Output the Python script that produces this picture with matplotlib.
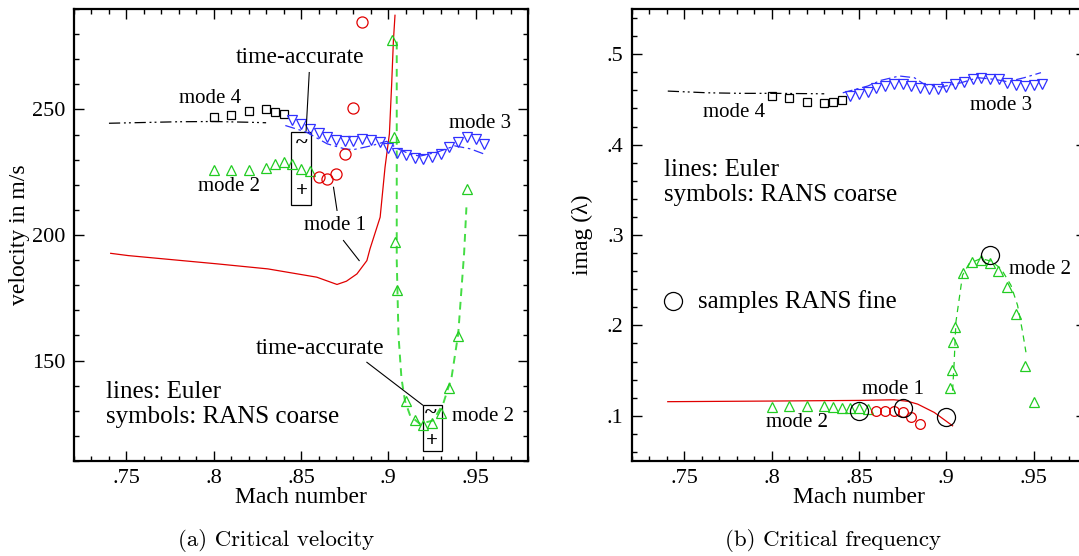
import matplotlib.pyplot as plt
from matplotlib.patches import Rectangle
from matplotlib.ticker import MultipleLocator

plt.rcParams['font.family'] = ['Liberation Serif', 'DejaVu Serif']

# ---------------- (a) critical velocity ----------------
mach_e1 = [0.741, 0.751, 0.802, 0.831, 0.859, 0.8706, 0.876, 0.882, 0.8877,
           0.8895, 0.8953, 0.8981, 0.9006, 0.9019, 0.9029, 0.9038]
vel_e1 = [192.7, 191.8, 188.5, 186.5, 183.2, 180.3, 181.6, 184.5, 189.8,
          194.5, 207.1, 227.0, 240.3, 260.2, 277.5, 287.5]

mach_e4 = [0.74, 0.76, 0.78, 0.80, 0.82, 0.83]
vel_e4 = [244.5, 244.8, 245.1, 245.2, 244.9, 244.7]

mach_r4 = [0.80, 0.81, 0.82, 0.83, 0.835, 0.84]
vel_r4 = [246.9, 247.9, 249.3, 250.0, 248.9, 248.3]

mach_r3 = [0.845, 0.85, 0.855, 0.86, 0.865, 0.87, 0.875, 0.88, 0.885, 0.89,
           0.895, 0.90, 0.905, 0.91, 0.915, 0.92, 0.925, 0.93, 0.935, 0.94,
           0.945, 0.95, 0.955]
vel_r3 = [245.6, 244.3, 242.3, 240.6, 239.0, 238.0, 237.6, 237.6, 238.2, 237.8,
          236.9, 234.7, 232.6, 231.7, 230.8, 230.1, 231.0, 232.2, 235.0, 237.0,
          239.0, 238.3, 236.3]

mach_e3 = [0.841, 0.853, 0.865, 0.875, 0.88, 0.89, 0.899, 0.905, 0.912, 0.918,
           0.928, 0.938, 0.947, 0.955]
vel_e3 = [243.6, 241.0, 236.3, 234.3, 234.0, 235.5, 237.3, 234.5, 232.3, 231.4,
          233.0, 235.5, 234.3, 232.2]

mach_r2 = [0.80, 0.81, 0.82, 0.83, 0.835, 0.84, 0.845, 0.85, 0.855,
           0.902, 0.903, 0.904, 0.905, 0.91, 0.915, 0.92, 0.925, 0.93, 0.935,
           0.94, 0.945]
vel_r2 = [226.0, 226.0, 226.0, 226.8, 228.1, 229.0, 228.1, 226.4, 225.3,
          277.5, 239.2, 197.1, 178.2, 133.7, 126.4, 124.5, 125.2, 129.2, 139.0,
          159.7, 218.4]

mach_e2 = [0.9048, 0.9048, 0.9058, 0.9075, 0.9095, 0.9125, 0.918, 0.9256,
           0.9314, 0.9362, 0.94, 0.9434, 0.9447]
vel_e2 = [277.0, 190.0, 160.0, 143.0, 134.0, 128.0, 124.8, 126.1, 132.8,
          143.3, 160.6, 193.0, 211.0]

mach_r1 = [0.86, 0.865, 0.87, 0.875, 0.88, 0.885]
vel_r1 = [223.0, 222.4, 224.1, 232.1, 250.5, 285.0]

# ---------------- (b) critical frequency ----------------
fmach_e1 = [0.7405, 0.80, 0.85, 0.87, 0.878, 0.8836, 0.8931, 0.9036]
freq_e1 = [0.1156, 0.1163, 0.1170, 0.1177, 0.1160, 0.1129, 0.1037, 0.0889]

fmach_e4 = [0.7405, 0.7634, 0.7825, 0.8015, 0.8301]
freq_e4 = [0.4592, 0.4573, 0.4567, 0.4567, 0.4562]

freq_r4 = [0.4537, 0.4518, 0.4473, 0.4456, 0.4473, 0.4492]

freq_r3 = [0.4537, 0.4556, 0.4584, 0.4629, 0.4648, 0.4667, 0.4667, 0.4648,
           0.4622, 0.4611, 0.4611, 0.4637, 0.4667, 0.4696, 0.4722, 0.4733,
           0.4722, 0.4722, 0.4684, 0.4659, 0.4648, 0.4659, 0.4673]

fmach_e3 = [0.8407, 0.855, 0.8626, 0.8731, 0.8817, 0.8874, 0.897, 0.9084,
            0.918, 0.9275, 0.9351, 0.9446, 0.9542]
freq_e3 = [0.4573, 0.4648, 0.4711, 0.4759, 0.4740, 0.4667, 0.4637, 0.4684,
           0.4740, 0.4722, 0.4696, 0.4740, 0.4796]

freq_r1 = [0.1056, 0.1056, 0.1056, 0.1037, 0.0981, 0.0907]

fmach_fine = [0.85, 0.875, 0.90, 0.925]
freq_fine = [0.1056, 0.1081, 0.0981, 0.2778]

fmach_r2 = [0.80, 0.81, 0.82, 0.83, 0.835, 0.84, 0.845, 0.85, 0.855,
            0.902, 0.903, 0.904, 0.905, 0.9095, 0.9147, 0.9196, 0.9248,
            0.9297, 0.9347, 0.9399, 0.945, 0.95]
freq_r2 = [0.1092, 0.1111, 0.1111, 0.1111, 0.1092, 0.1084, 0.1084, 0.1084,
           0.1073, 0.1307, 0.1511, 0.1815, 0.1981, 0.2581, 0.2700, 0.2722,
           0.2689, 0.2607, 0.2429, 0.2129, 0.1546, 0.1156]

fmach_e2 = [0.9036, 0.9045, 0.9055, 0.9074, 0.9093, 0.9131, 0.9198, 0.9255,
            0.9313, 0.9370, 0.9408, 0.9437, 0.9456]
freq_e2 = [0.1278, 0.1592, 0.2037, 0.2296, 0.2556, 0.2684, 0.2740, 0.2711,
           0.2629, 0.2444, 0.2222, 0.1926, 0.1703]

mach_ticks = [0.75, 0.80, 0.85, 0.90, 0.95]
mach_labels = ['.75', '.8', '.85', '.9', '.95']
vel_ticks = [150, 200, 250]
vel_labels = ['150', '200', '250']
freq_ticks = [0.1, 0.2, 0.3, 0.4, 0.5]
freq_labels = ['.1', '.2', '.3', '.4', '.5']

RED = '#e00000'
GREEN = '#22cc22'
GREEN_L = '#44dd44'
BLUE = '#3030ff'

fig = plt.figure(figsize=(10.79, 5.56), dpi=100)
ax1 = fig.add_axes([0.0686, 0.1709, 0.4208, 0.8129])
ax2 = fig.add_axes([0.5857, 0.1709, 0.4208, 0.8129])


def style_axes(ax):
    ax.set_xlim(0.72, 0.98)
    ax.set_xticks(mach_ticks, mach_labels)
    ax.xaxis.set_minor_locator(MultipleLocator(0.01))
    ax.tick_params(which='both', direction='in', top=True, right=True,
                   labelsize=16, width=1)
    ax.tick_params(which='major', length=7, pad=6)
    ax.tick_params(which='minor', length=3.5)
    for s in ax.spines.values():
        s.set_linewidth(1.6)
    ax.set_xlabel('Mach number', fontsize=17, labelpad=-1)


open_kw = dict(mfc='none', linestyle='none', mew=0.9)

# ---- left panel ----
ax1.plot(mach_e1, vel_e1, color=RED, lw=0.9)
ax1.plot(mach_e4, vel_e4, color='black', lw=0.9, dashes=(9, 3, 1.5, 2.5, 1.5, 3))
ax1.plot(mach_e3, vel_e3, color=BLUE, lw=0.9, dashes=(8, 3, 2, 3))
ax1.plot(mach_e2, vel_e2, color=GREEN_L, lw=1.4, dashes=(4, 3))
ax1.plot(mach_r4, vel_r4, marker='s', color='black', ms=6, **open_kw)
ax1.plot(mach_r3, vel_r3, marker='v', color=BLUE, ms=7.5, **open_kw)
ax1.plot(mach_r2, vel_r2, marker='^', color=GREEN, ms=7.5, **open_kw)
ax1.plot(mach_r1, vel_r1, marker='o', color=RED, ms=8, **open_kw)

ax1.set_ylim(110, 290)
ax1.set_yticks(vel_ticks, vel_labels)
ax1.yaxis.set_minor_locator(MultipleLocator(10))
style_axes(ax1)
ax1.set_ylabel('velocity in m/s', fontsize=17, labelpad=2)

ax1.text(0.7977, 254.4, 'mode 4', fontsize=15, ha='center', va='center')
ax1.text(0.8496, 270.7, 'time-accurate', fontsize=17, ha='center', va='center')
ax1.plot([0.8547, 0.8529], [264.7, 241.6], color='black', lw=0.8)
ax1.add_patch(Rectangle((0.8445, 211.8), 0.0114, 29.2, fill=False, lw=0.9))
ax1.text(0.8502, 236.3, '~', fontsize=16, fontweight='bold', ha='center', va='center')
ax1.text(0.8502, 217.7, '+', fontsize=15, fontweight='bold', ha='center', va='center')
ax1.text(0.8087, 219.3, 'mode 2', fontsize=15, ha='center', va='center')
ax1.plot([0.8686, 0.8706], [219.0, 209.8], color='black', lw=0.8)
ax1.text(0.8696, 203.8, 'mode 1', fontsize=15, ha='center', va='center')
ax1.plot([0.8743, 0.8833], [197.8, 189.8], color='black', lw=0.8)
ax1.text(0.9523, 244.3, 'mode 3', fontsize=15, ha='center', va='center')
ax1.text(0.861, 154.7, 'time-accurate', fontsize=17, ha='center', va='center')
ax1.plot([0.8877, 0.9196], [149.3, 132.3], color='black', lw=0.8)
ax1.add_patch(Rectangle((0.9196, 113.9), 0.0109, 18.45, fill=False, lw=0.9))
ax1.text(0.9244, 128.8, '~', fontsize=16, fontweight='bold', ha='center', va='center')
ax1.text(0.9248, 117.9, '+', fontsize=15, fontweight='bold', ha='center', va='center')
ax1.text(0.9542, 127.8, 'mode 2', fontsize=15, ha='center', va='center')
ax1.text(0.7384, 137.4, 'lines: Euler', fontsize=18, ha='left', va='center')
ax1.text(0.7384, 127.4, 'symbols: RANS coarse', fontsize=18, ha='left', va='center')

# ---- right panel ----
ax2.plot(fmach_e1, freq_e1, color=RED, lw=0.9)
ax2.plot(fmach_e4, freq_e4, color='black', lw=0.9, dashes=(9, 3, 1.5, 2.5, 1.5, 3))
ax2.plot(fmach_e3, freq_e3, color=BLUE, lw=0.9, dashes=(8, 3, 2, 3))
ax2.plot(fmach_e2, freq_e2, color=GREEN, lw=0.9, dashes=(5, 4))
ax2.plot(mach_r4, freq_r4, marker='s', color='black', ms=6, **open_kw)
ax2.plot(mach_r3, freq_r3, marker='v', color=BLUE, ms=7.5, **open_kw)
ax2.plot(fmach_r2, freq_r2, marker='^', color=GREEN, ms=7, **open_kw)
ax2.plot(mach_r1, freq_r1, marker='o', color=RED, ms=7, **open_kw)
ax2.plot(fmach_fine, freq_fine, marker='o', color='black', ms=13, **open_kw)

ax2.set_ylim(0.05, 0.55)
ax2.set_yticks(freq_ticks, freq_labels)
ax2.yaxis.set_minor_locator(MultipleLocator(0.02))
style_axes(ax2)
ax2.set_ylabel('imag (λ)', fontsize=17, labelpad=10)

ax2.text(0.7786, 0.4351, 'mode 4', fontsize=15, ha='center', va='center')
ax2.text(0.9313, 0.4437, 'mode 3', fontsize=15, ha='center', va='center')
ax2.text(0.7382, 0.3722, 'lines: Euler', fontsize=18, ha='left', va='center')
ax2.text(0.7382, 0.3444, 'symbols: RANS coarse', fontsize=18, ha='left', va='center')
ax2.plot([0.7434], [0.2267], marker='o', color='black', ms=13, **open_kw)
ax2.text(0.758, 0.2267, 'samples RANS fine', fontsize=18, ha='left', va='center')
ax2.text(0.936, 0.2614, 'mode 2', fontsize=15, ha='left', va='center')
ax2.text(0.8696, 0.1296, 'mode 1', fontsize=15, ha='center', va='center')
ax2.text(0.8143, 0.0926, 'mode 2', fontsize=15, ha='center', va='center')

fig.text(276 / 1079, 1 - 540 / 556, '(a) Critical velocity', family='cmr10',
         fontsize=16.5, ha='center', va='center')
fig.text(833 / 1079, 1 - 540 / 556, '(b) Critical frequency', family='cmr10',
         fontsize=16.5, ha='center', va='center')

fig.savefig('out.png', dpi=100)
